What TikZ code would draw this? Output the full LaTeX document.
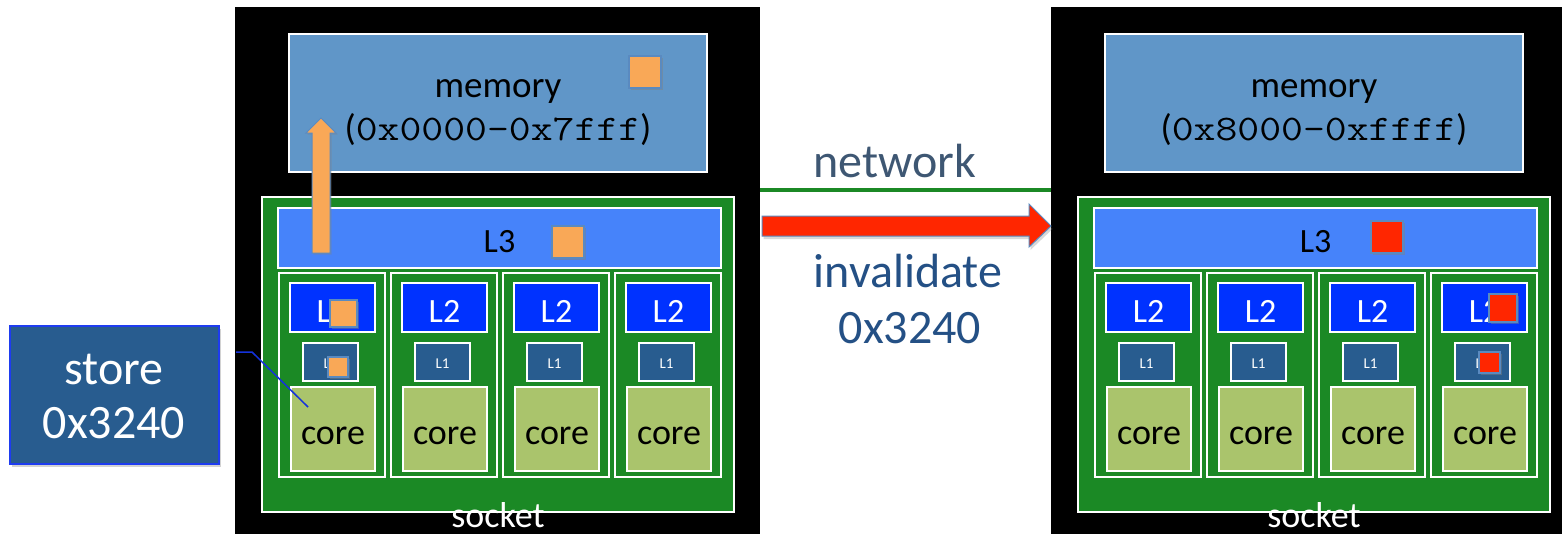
\documentclass[tikz,border=0pt]{standalone}
\usepackage{fontspec}
\setmainfont{Carlito}
\usetikzlibrary{shadows,calc}

\definecolor{memblue}{RGB}{96,150,200}
\definecolor{sockgreen}{RGB}{27,137,37}
\definecolor{lthreeblue}{RGB}{70,131,250}
\definecolor{ltwoblue}{RGB}{0,50,255}
\definecolor{loneblue}{RGB}{40,92,143}
\definecolor{corefill}{RGB}{170,196,108}
\definecolor{lineorange}{RGB}{249,168,87}
\definecolor{invalred}{RGB}{255,38,0}
\definecolor{edgeblue}{RGB}{90,138,192}
\definecolor{nettext}{RGB}{62,87,115}
\definecolor{invtext}{RGB}{36,80,133}
\definecolor{storeedge}{RGB}{30,60,240}
\definecolor{calloutblue}{RGB}{20,50,220}
\definecolor{netgreen}{RGB}{27,137,37}

\newcommand\setsz[1]{\fontsize{#1}{#1}\selectfont}
% thin typewriter digits, widened to the usual 0.6em pitch
\newcommand\hexaddr[1]{\scalebox{1.18}[1]{\ttfamily\setsz{36}#1}}

% one socket: black backdrop, memory, L3, four cores with L2/L1
% #1 name prefix, #2 horizontal offset, #3 address range
\newcommand\socketunit[3]{%
  \begin{scope}[shift={(#2,0)}]
    \node[sockbg] (#1-bg) at (235,7) {};
    \node[membox] (#1-mem) at (289,34) {};
    \node[memtext] (#1-memname) at (498,97) {memory};
    \node[memtext] (#1-range) at (498,140) {(\hexaddr{#3})};
    \node[greenbox] (#1-chip) at (262,197) {};
    \node[lthreebox] (#1-l3) at (278,208) {L3};
    \foreach \i/\cx in {1/279,2/391,3/503,4/615}{
      \node[colbox] (#1-col\i) at (\cx,273) {};
      \node[ltwobox] (#1-l2-\i) at (\cx+11,283) {L2};
      \node[lonebox] (#1-l1-\i) at (\cx+24,343) {L1};
      \node[corebox] (#1-core\i) at (\cx+12,387) {core};
    }
    \node[socktext] (#1-label) at (498,527) {socket};
  \end{scope}}

\begin{document}
\begin{tikzpicture}[x=1pt,y=-1pt,
  panel/.style={anchor=north west, inner sep=0pt, outer sep=0pt,
    draw=white, line width=1.2pt},
  sockbg/.style={anchor=north west, inner sep=0pt, outer sep=0pt,
    fill=black, minimum width=525pt, minimum height=540pt},
  membox/.style={panel, fill=memblue, minimum width=418pt, minimum height=138pt},
  memtext/.style={anchor=base, inner sep=0pt, font=\setsz{37}},
  greenbox/.style={panel, fill=sockgreen, minimum width=472pt, minimum height=315pt},
  lthreebox/.style={panel, fill=lthreeblue, minimum width=443pt, minimum height=60pt,
    font=\setsz{34}, text height=28pt, text depth=0pt},
  colbox/.style={panel, minimum width=106pt, minimum height=204pt},
  ltwobox/.style={panel, fill=ltwoblue, text=white, minimum width=85pt,
    minimum height=49pt, font=\setsz{34}, text height=29pt, text depth=0pt},
  lonebox/.style={panel, fill=loneblue, text=white, minimum width=55pt,
    minimum height=38pt, font=\setsz{15}, text height=12pt, text depth=0pt},
  corebox/.style={panel, fill=corefill, minimum width=84pt, minimum height=84pt,
    font=\setsz{36}, text height=30pt, text depth=0pt},
  socktext/.style={anchor=base, inner sep=0pt, text=white, font=\setsz{36}},
  line/.style={anchor=north west, inner sep=0pt, outer sep=0pt,
    draw=edgeblue, line width=1.2pt,
    drop shadow={shadow xshift=1.5pt, shadow yshift=-2pt, opacity=0.45}},
  cleanline/.style={line, fill=lineorange},
  staleline/.style={line, fill=invalred},
  bigtext/.style={anchor=base, inner sep=0pt, font=\setsz{48}},
  storetext/.style={anchor=base, inner sep=0pt, text=white, font=\setsz{48}},
]
\useasboundingbox (0,0) rectangle (1562,533);
\fill[white] (0,0) rectangle (1562,533);

\socketunit{home}{0}{0x0000-0x7fff}
\socketunit{remote}{816}{0x8000-0xffff}

% cache lines in the home socket
\node[cleanline, minimum width=32pt, minimum height=32pt] (home-memline) at (629,56) {};
\node[cleanline, minimum width=32pt, minimum height=32pt] (home-l3line) at (552,226) {};
\node[cleanline, minimum width=27pt, minimum height=27pt] (home-l2line) at (330,300) {};
\node[cleanline, minimum width=20pt, minimum height=20pt] (home-l1line) at (328,357) {};

% stale copies in the remote socket
\node[staleline, minimum width=32pt, minimum height=32pt] (remote-l3line) at (1371,221) {};
\node[staleline, minimum width=28pt, minimum height=28pt] (remote-l2line) at (1489,294) {};
\node[staleline, minimum width=21pt, minimum height=21pt] (remote-l1line) at (1479,352) {};

% write-back arrow from L3 to memory
\coordinate (wb-tail) at (321,253);
\coordinate (wb-tip) at (321,118);
\fill[lineorange, draw=edgeblue, line width=1pt,
  drop shadow={shadow xshift=1.5pt, shadow yshift=-1.5pt, opacity=0.35}]
  ($(wb-tail)+(-9,0)$) -- ($(wb-tail)+(9,0)$) -- ($(wb-tip)+(9,15)$)
  -- ($(wb-tip)+(15,15)$) -- (wb-tip) -- ($(wb-tip)+(-15,15)$)
  -- ($(wb-tip)+(-9,15)$) -- cycle;

% network link between the sockets
\coordinate (net-a) at (home-bg.east |- 0,190);
\coordinate (net-b) at (remote-bg.west |- 0,190);
\draw[netgreen, line width=4pt] (net-a) -- (net-b);
\node[bigtext, text=nettext] (net-label) at (895,177) {network};

% invalidation message
\coordinate (inv-tail) at ($(home-bg.east |- 0,226)+(2,0)$);
\coordinate (inv-tip) at (remote-bg.west |- 0,226);
\fill[invalred, draw=edgeblue, line width=1pt,
  drop shadow={shadow xshift=1.5pt, shadow yshift=-3pt, opacity=0.3}]
  ($(inv-tail)+(0,-10)$) -- ($(inv-tip)+(-22,-10)$) -- ($(inv-tip)+(-22,-22)$)
  -- (inv-tip) -- ($(inv-tip)+(-22,21)$) -- ($(inv-tip)+(-22,10)$)
  -- ($(inv-tail)+(0,10)$) -- cycle;
\node[bigtext, text=invtext] (inv-label) at (908,287) {invalidate};
\node[bigtext, text=invtext] (inv-addr) at (910,343) {0x3240};

% the store instruction issued by core 1
\node[anchor=north west, inner sep=0pt, fill=loneblue, draw=storeedge,
  line width=1.5pt, minimum width=209pt, minimum height=138pt,
  drop shadow={shadow xshift=2pt, shadow yshift=-3pt, opacity=0.35}]
  (store) at (9,325) {};
\node[storetext] (store-op) at (114,384) {store};
\node[storetext] (store-addr) at (114,438) {0x3240};
\coordinate (callout-start) at (236,352);
\coordinate (callout-bend) at (252,352);
\coordinate (callout-end) at (308,407);
\draw[calloutblue, line width=1.5pt] (callout-start) -- (callout-bend) -- (callout-end);
\end{tikzpicture}
\end{document}
